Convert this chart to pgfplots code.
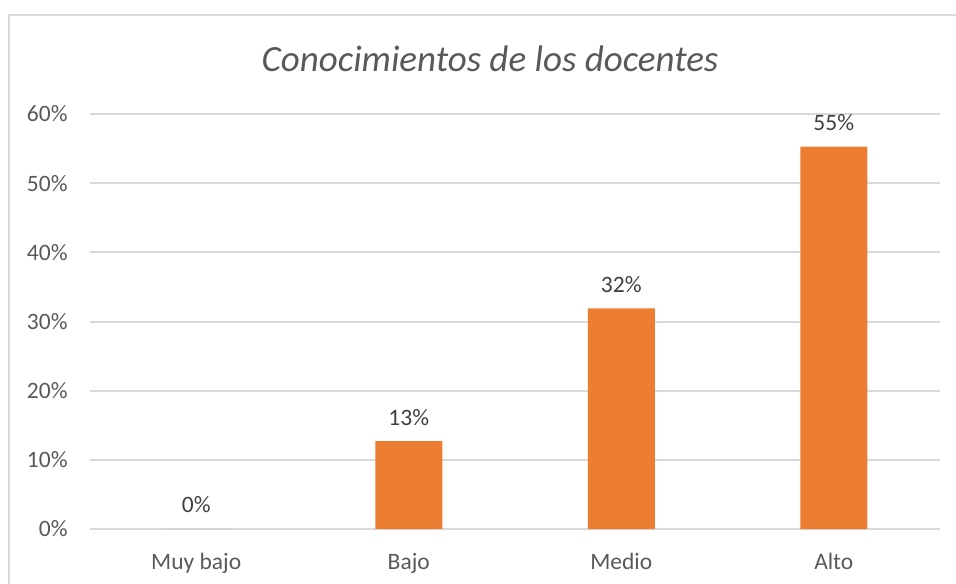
\documentclass[border=0pt]{standalone}
\usepackage{pgfplots}
\pgfplotsset{compat=1.18}
\usepackage{fontspec}
\setmainfont{Carlito}
\definecolor{barorange}{HTML}{ED7D31}
\definecolor{gridgray}{HTML}{D9D9D9}
\definecolor{txtgray}{HTML}{595959}
\definecolor{lblgray}{HTML}{404040}
\begin{document}
\begin{tikzpicture}
% 1 px of the reference = 0.5pt
\useasboundingbox (-45pt,-27pt) rectangle (433pt,264.5pt);
\clip (-45pt,-27pt) rectangle (433pt,264.5pt);
\draw[gridgray, line width=0.8pt] (-40.5pt,-40pt) -- (-40.5pt,257pt) -- (450pt,257pt);
\begin{axis}[
    at={(0pt,0pt)}, anchor=south west,
    scale only axis,
    width=425pt, height=207.5pt,
    xmin=-0.5, xmax=3.5,
    ymin=0, ymax=60,
    axis line style={draw=none},
    major tick length=0pt,
    ytick={0,10,20,30,40,50,60},
    yticklabel={\pgfmathprintnumber{\tick}\%},
    xtick={0,1,2,3},
    xticklabels={Muy bajo,Bajo,Medio,Alto},
    ymajorgrids,
    grid style={gridgray, line width=1pt},
    /pgf/number format/assume math mode=true,
    tick label style={font=\fontsize{11.75}{14}\selectfont, text=txtgray},
    yticklabel style={anchor=east, inner sep=0pt, xshift=-11pt},
    xticklabel style={anchor=base, inner sep=0pt, yshift=-20pt},
    ybar, bar width=33.5pt,
    nodes near coords={\pgfmathprintnumber[fixed,precision=0]{\pgfplotspointmeta}\%},
    every node near coord/.append style={font=\fontsize{11.75}{14}\selectfont, text=lblgray, anchor=center, inner sep=0pt, yshift=12pt},
]
\addplot[fill=barorange, draw=none] coordinates {
    (0,0) (1,12.7) (2,31.9) (3,55.3)
};
\end{axis}
\node[anchor=base, text=txtgray, font=\fontsize{18.5}{22}\selectfont\itshape] at (200pt,228.5pt) {Conocimientos de los docentes};
\end{tikzpicture}
\end{document}
